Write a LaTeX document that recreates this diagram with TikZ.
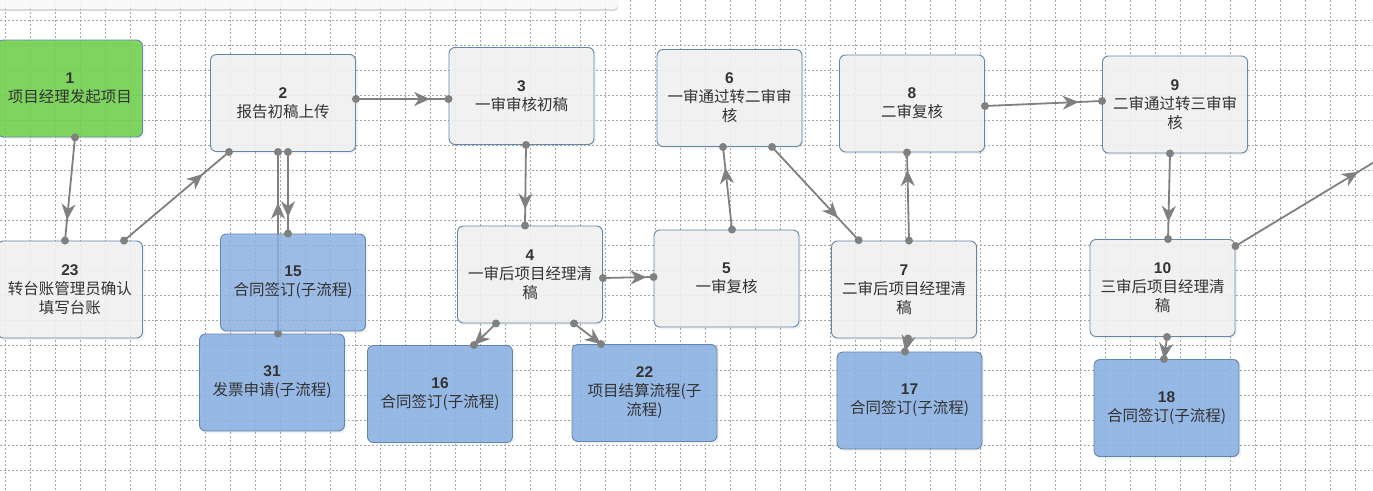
\documentclass[tikz,border=0pt]{standalone}
\usepackage{fontspec}
\setmainfont{Liberation Sans}
\newfontfamily\cjk{Noto Sans CJK SC}
\usepackage{tikz}
\usetikzlibrary{arrows.meta, shadows, decorations.markings}

\definecolor{boxgray}{RGB}{241,241,241}
\definecolor{boxline}{RGB}{98,135,168}
\definecolor{subblue}{RGB}{138,176,227}
\definecolor{startgreen}{RGB}{112,208,76}
\definecolor{linkgray}{RGB}{128,128,128}
\definecolor{gridgray}{RGB}{165,165,165}
\definecolor{textgray}{RGB}{51,51,51}

\tikzset{
  gridline/.style={gridgray, line width=0.7pt, dash pattern=on 2pt off 2pt},
  task/.style={rectangle, rounded corners=6pt, draw=boxline, line width=0.9pt,
    fill=boxgray, fill opacity=0.88, text opacity=1, text=textgray,
    minimum width=145pt, minimum height=97pt, align=center,
    font={\fontsize{15.5}{19}\selectfont},
    drop shadow={opacity=0.1, shadow xshift=2pt, shadow yshift=-2pt}},
  subtask/.style={task, fill=subblue},
  starttask/.style={task, fill=startgreen},
  link/.style={draw=linkgray, color=linkgray, line width=1.8pt, postaction={decorate},
    decoration={markings,
      mark=at position 0 with {\fill[linkgray] circle (4pt);},
      mark=at position #1 with {\arrow{Stealth[length=16pt, width=14pt, inset=5pt]}},
      mark=at position 0.9999 with {\fill[linkgray] circle (4pt);}}},
  link/.default=0.8
}

\begin{document}
\begin{tikzpicture}[x=1pt, y=-1pt]
\useasboundingbox (0,0) rectangle (1373,490);
\fill[white] (0,0) rectangle (1373,490);
\foreach \x in {5,30,...,1373} \draw[gridline] (\x,0) -- (\x,490);
\foreach \y in {20,45,...,490} \draw[gridline] (0,\y) -- (1373,\y);
\fill[white, fill opacity=0.85, rounded corners=4pt, drop shadow={opacity=0.3, shadow xshift=0pt, shadow yshift=-2pt}] (-10,-10) rectangle (618,9);
%
\node[starttask] (n1) at (70,88.5) {\textbf{1}\\{\cjk 项目经理发起项目}};
\node[task] (n23) at (70,289.5) {\textbf{23}\\{\cjk 转台账管理员确认}\\{\cjk 填写台账}};
\node[task] (n2) at (283,103) {\textbf{2}\\{\cjk 报告初稿上传}};
\node[task] (n3) at (521.5,96) {\textbf{3}\\{\cjk 一审审核初稿}};
\node[task] (n4) at (530,274.5) {\textbf{4}\\{\cjk 一审后项目经理清}\\{\cjk 稿}};
\node[task] (n5) at (726.5,278.5) {\textbf{5}\\{\cjk 一审复核}};
\node[task] (n6) at (729.5,98) {\textbf{6}\\{\cjk 一审通过转二审审}\\{\cjk 核}};
\node[task] (n7) at (904,289.5) {\textbf{7}\\{\cjk 二审后项目经理清}\\{\cjk 稿}};
\node[task] (n8) at (912,103.5) {\textbf{8}\\{\cjk 二审复核}};
\node[task] (n9) at (1175,104.5) {\textbf{9}\\{\cjk 二审通过转三审审}\\{\cjk 核}};
\node[task] (n10) at (1162.5,288) {\textbf{10}\\{\cjk 三审后项目经理清}\\{\cjk 稿}};
\node[subtask] (n16) at (440,394) {\textbf{16}\\{\cjk 合同签订(子流程)}};
\node[subtask] (n17) at (909.5,400.5) {\textbf{17}\\{\cjk 合同签订(子流程)}};
\node[subtask] (n18) at (1166.5,408) {\textbf{18}\\{\cjk 合同签订(子流程)}};
\node[subtask] (n22) at (644.5,393) {\textbf{22}\\{\cjk 项目结算流程(子}\\{\cjk 流程)}};
\node[subtask] (n31) at (272,382.5) {\textbf{31}\\{\cjk 发票申请(子流程)}};
\draw[link=0.72] ([xshift=6pt]n31.north) -- ([xshift=-5pt]n2.south);
\node[subtask, fill opacity=0.82] (n15) at (293,282.5) {\textbf{15}\\{\cjk 合同签订(子流程)}};
\coordinate (exit) at (1385,155.5);
%
\draw[link] ([xshift=5pt]n1.south) -- ([xshift=-5pt]n23.north);
\draw[link=0.75] ([xshift=54pt]n23.north) -- ([xshift=-54pt]n2.south);
\draw[link] ([yshift=4pt]n2.east) -- ([yshift=-3pt]n3.west);
\draw[link] ([xshift=5pt]n2.south) -- ([xshift=-5pt]n15.north);
\draw[link] ([xshift=4.5pt]n3.south) -- ([xshift=-5pt]n4.north);
\draw[link=0.86] ([yshift=-3.5pt]n4.east) -- ([yshift=1.5pt]n5.west);
\draw[link=0.75] ([xshift=5.5pt]n5.north) -- ([xshift=-6.5pt]n6.south);
\draw[link=0.76] ([xshift=42.5pt]n6.south) -- ([xshift=-45pt]n7.north);
\draw[link=0.999] ([xshift=-34pt]n4.south) -- ([xshift=34pt]n16.north);
\draw[link=0.999] ([xshift=44pt]n4.south) -- ([xshift=-43.5pt]n22.north);
\draw[link] ([xshift=5pt]n7.north) -- ([xshift=-5pt]n8.south);
\draw[link] ([yshift=-2.5pt]n8.east) -- ([yshift=3.5pt]n9.west);
\draw[link] ([xshift=-5pt]n9.south) -- ([xshift=5.5pt]n10.north);
\draw[link=0.999] ([xshift=4pt]n7.south) -- ([xshift=-4.5pt]n17.north);
\draw[link=0.999] ([xshift=4.5pt]n10.south) -- ([xshift=-2.5pt]n18.north);
\draw[link=0.82] ([yshift=-7pt]n10.north east) -- (exit);
\end{tikzpicture}
\end{document}
